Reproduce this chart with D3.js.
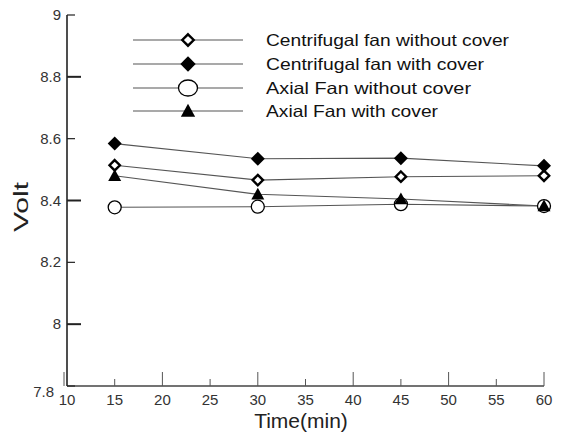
<!DOCTYPE html>
<html><head><meta charset="utf-8">
<script src="https://cdn.jsdelivr.net/npm/d3@7"></script>
<style>body{margin:0;background:#fff}svg{display:block}text{font-family:"Liberation Sans",Arial,sans-serif}</style>
</head><body>
<script>
const times = [15, 30, 45, 60];
const centrifugalWithout = [8.514, 8.466, 8.477, 8.48];
const centrifugalWith = [8.584, 8.535, 8.537, 8.512];
const axialWithout = [8.378, 8.38, 8.388, 8.382];
const axialWith = [8.48, 8.42, 8.405, 8.382];
const seriesNames = ["Centrifugal fan without cover", "Centrifugal fan with cover", "Axial Fan without  cover", "Axial Fan with cover"];
const xTicks = [10, 15, 20, 25, 30, 35, 40, 45, 50, 55, 60];
const yTicks = [7.8, 8, 8.2, 8.4, 8.6, 8.8, 9];
const yTickLabels = ["7.8", "8", "8.2", "8.4", "8.6", "8.8", "9"];

const W = 562, H = 439;
const svg = d3.select("body").append("svg").attr("width", W).attr("height", H);
const x = d3.scaleLinear().domain([10, 60]).range([67, 544]);
const y = d3.scaleLinear().domain([7.8, 9]).range([386, 15]);

const series = [
  {name: seriesNames[0], vals: centrifugalWithout, m: "odiamond"},
  {name: seriesNames[1], vals: centrifugalWith, m: "fdiamond"},
  {name: seriesNames[2], vals: axialWithout, m: "circle"},
  {name: seriesNames[3], vals: axialWith, m: "triangle"}
];

function marker(g, type, cx, cy, legend) {
  const s = legend ? 1.1 : 1;
  if (type === "fdiamond") {
    const r = 7 * s;
    g.append("path").attr("d", `M${cx},${cy - r}L${cx + r},${cy}L${cx},${cy + r}L${cx - r},${cy}Z`).attr("fill", "#000");
  } else if (type === "odiamond") {
    const r = 5.2 * s;
    g.append("path").attr("d", `M${cx},${cy - r}L${cx + r},${cy}L${cx},${cy + r}L${cx - r},${cy}Z`).attr("fill", "#fff").attr("stroke", "#000").attr("stroke-width", 2.4);
  } else if (type === "circle") {
    if (legend) g.append("ellipse").attr("cx", cx).attr("cy", cy).attr("rx", 9.5).attr("ry", 8).attr("fill", "#fff").attr("stroke", "#000").attr("stroke-width", 1.3);
    else g.append("circle").attr("cx", cx).attr("cy", cy).attr("r", 6.5).attr("fill", "#fff").attr("stroke", "#000").attr("stroke-width", 1.3);
  } else if (type === "triangle") {
    const r = 6.5 * s;
    g.append("path").attr("d", `M${cx},${cy - r}L${cx + r},${cy + r * 0.8}L${cx - r},${cy + r * 0.8}Z`).attr("fill", "#000");
  }
}

// axes
const xAxis = svg.append("g");
xAxis.append("line").attr("x1", x(10)).attr("x2", x(60)).attr("y1", y(7.8)).attr("y2", y(7.8)).attr("stroke", "#444").attr("stroke-width", 1.3);
xTicks.forEach(t => {
  const major = t % 10 === 0;
  xAxis.append("line").attr("x1", x(t) - (t === 10 ? 3 : 0)).attr("x2", x(t) - (t === 10 ? 3 : 0))
    .attr("y1", y(7.8)).attr("y2", y(7.8) - (major ? 14 : 7)).attr("stroke", "#555").attr("stroke-width", 1);
  xAxis.append("text").attr("x", x(t)).attr("y", 405).attr("text-anchor", "middle")
    .attr("font-size", 15).attr("fill", "#333").text(t);
});
const yAxis = svg.append("g");
yAxis.append("line").attr("x1", x(10)).attr("x2", x(10)).attr("y1", y(9)).attr("y2", y(7.8)).attr("stroke", "#222").attr("stroke-width", 1.6);
yTicks.forEach((t, i) => {
  const major = [8, 8.4, 8.8].some(v => Math.abs(v - t) < 1e-6);
  yAxis.append("line").attr("x1", x(10)).attr("x2", x(10) + (major ? 14 : 8)).attr("y1", y(t)).attr("y2", y(t))
    .attr("stroke", "#222").attr("stroke-width", major ? 2 : 1.2);
  yAxis.append("text").attr("x", t === 7.8 ? 54 : 61).attr("y", t === 7.8 ? 397 : y(t) + 5).attr("text-anchor", "end")
    .attr("font-size", 15).attr("fill", "#333").text(yTickLabels[i]);
});

svg.append("text").attr("transform", "translate(28,207) rotate(-90)").attr("text-anchor", "middle")
  .attr("font-size", 21).attr("fill", "#222").attr("textLength", 50).attr("lengthAdjust", "spacingAndGlyphs").text("Volt");
svg.append("text").attr("x", 301).attr("y", 428).attr("text-anchor", "middle")
  .attr("font-size", 21).attr("fill", "#222").text("Time(min)");

// lines
const line = d3.line().x((d, i) => x(times[i])).y(d => y(d));
series.forEach(s => {
  svg.append("path").attr("d", line(s.vals)).attr("fill", "none").attr("stroke", "#555").attr("stroke-width", 1.1);
});
series.forEach(s => {
  const g = svg.append("g");
  s.vals.forEach((v, i) => marker(g, s.m, x(times[i]), y(v), false));
});

// legend
const legY = [40, 64, 88, 111];
series.forEach((s, i) => {
  const g = svg.append("g");
  g.append("line").attr("x1", 133).attr("x2", 243).attr("y1", legY[i]).attr("y2", legY[i]).attr("stroke", "#555").attr("stroke-width", 1.1);
  marker(g, s.m, 188, legY[i], true);
  const lens = [243, 218, 205, 172];
  g.append("text").attr("x", 266).attr("y", legY[i] + 6).attr("font-size", 16.5).attr("fill", "#111")
    .attr("textLength", lens[i]).attr("lengthAdjust", "spacingAndGlyphs").text(s.name);
});
</script>
</body></html>
